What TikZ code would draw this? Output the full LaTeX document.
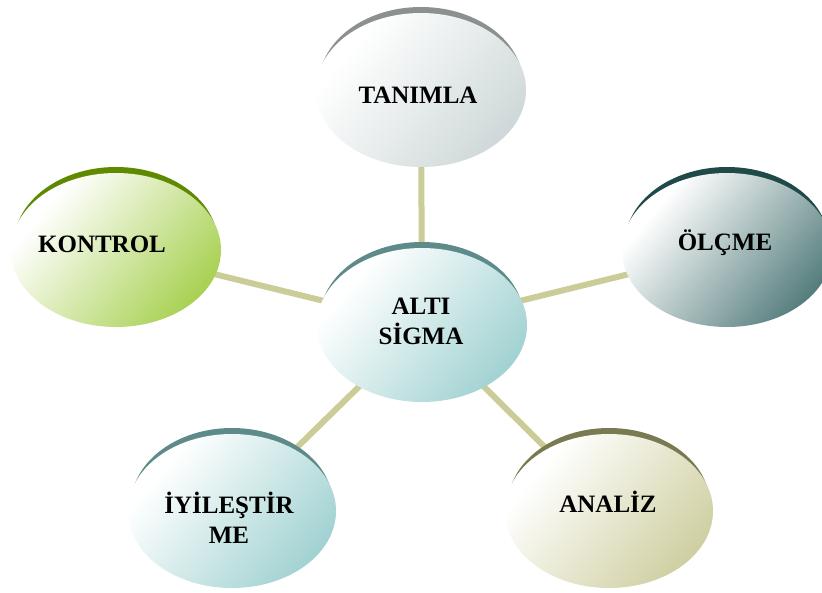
\documentclass[tikz,border=0pt]{standalone}
\usepackage{fontspec}
\setmainfont{Liberation Serif}
\usetikzlibrary{shapes.geometric,backgrounds}
\definecolor{linecol}{HTML}{CCCC99}
\definecolor{tcol}{HTML}{CCD6D6}\definecolor{tdark}{HTML}{8C9090}
\definecolor{ccol}{HTML}{9CCFCF}\definecolor{cdark}{HTML}{5E8A8A}
\definecolor{kcol}{HTML}{A3CE48}\definecolor{kdark}{HTML}{5F8A00}
\definecolor{ocol}{HTML}{4B7575}\definecolor{odark}{HTML}{1F4A48}
\definecolor{acol}{HTML}{CCCC9C}\definecolor{adark}{HTML}{7A7A52}
\newcommand\mkshade[2]{\pgfdeclareverticalshading{#1}{100bp}{color(0bp)=(#2); color(22bp)=(#2); color(72bp)=(white); color(100bp)=(white)}}
\mkshade{tshade}{tcol}
\mkshade{cshade}{ccol}
\mkshade{kshade}{kcol}
\mkshade{oshade}{ocol}
\mkshade{ashade}{acol}
\tikzset{
  bubble/.style={ellipse, draw=none, inner sep=0pt, minimum width=210pt, minimum height=154pt, shading=#1, shading angle=50},
  conn/.style={draw=linecol, line width=6pt},
  lbl/.style={font=\fontsize{25}{30}\selectfont\bfseries, align=center, inner sep=0pt}
}
\begin{document}
\begin{tikzpicture}[x=1pt,y=-1pt]
\useasboundingbox (0,0) rectangle (822,593);
% rims (dark crescents)
\fill[tdark] (421,84) ellipse [x radius=102pt, y radius=77pt];
\fill[cdark] (422,319) ellipse [x radius=102pt, y radius=77pt];
\fill[kdark] (116,244) ellipse [x radius=102pt, y radius=77pt];
\fill[odark] (727,244) ellipse [x radius=102pt, y radius=77pt];
\fill[cdark] (232,505) ellipse [x radius=101pt, y radius=77pt];
\fill[adark] (609,505) ellipse [x radius=101pt, y radius=77pt];
% bubbles
\node[bubble=tshade] (t) at (421,90) {};
\node[bubble=cshade] (c) at (422,325) {};
\node[bubble=kshade] (k) at (116,250) {};
\node[bubble=oshade] (o) at (727,250) {};
\node[bubble=cshade, minimum width=208pt] (i) at (232,511) {};
\node[bubble=ashade, minimum width=208pt] (a) at (609,511) {};
% background and connectors
\begin{scope}[on background layer]
\fill[white] (0,0) rectangle (822,593);
\draw[conn] (c.center) -- (t.center);
\draw[conn] (c.center) -- (k.center);
\draw[conn] (c.center) -- (o.center);
\draw[conn] (c.center) -- (i.center);
\draw[conn] (c.center) -- (a.center);
\end{scope}
% labels
\node[lbl] (tl) at (418,95) {TANIMLA};
\node[lbl] (cl) at (421,321) {ALTI\\SİGMA};
\node[lbl] (kl) at (102,244) {KONTROL};
\node[lbl] (ol) at (725,243) {ÖLÇME};
\node[lbl] (il) at (229,518) {İYİLEŞTİR\\ME};
\node[lbl] (al) at (608,502) {ANALİZ};
\end{tikzpicture}
\end{document}
